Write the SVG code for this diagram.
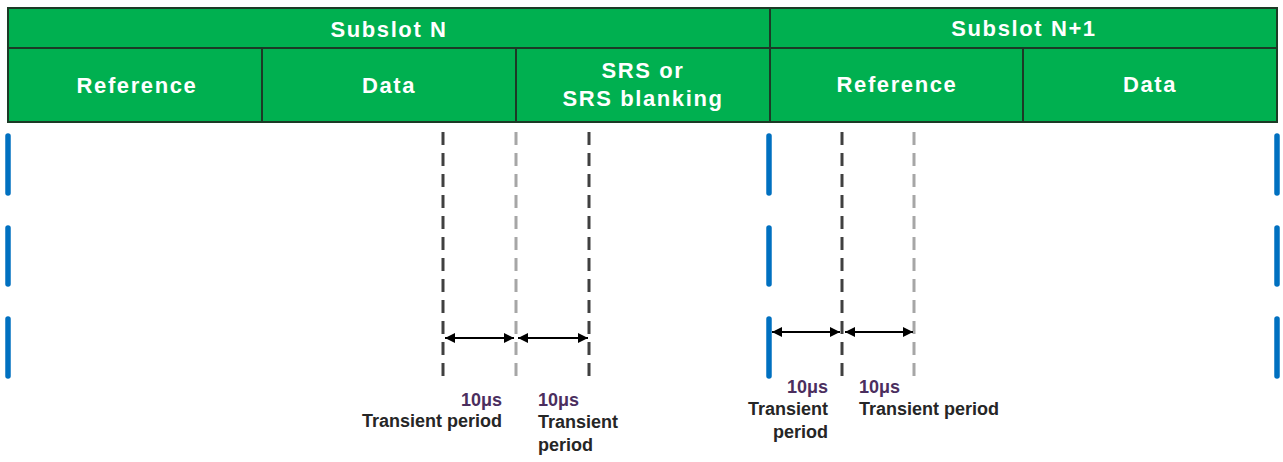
<svg xmlns="http://www.w3.org/2000/svg" width="1283" height="462" viewBox="0 0 1283 462">
<style>
.cell{fill:#00B050;stroke:#1C3A26;stroke-width:2}
.ht{font-family:"Liberation Sans",Arial,sans-serif;font-weight:bold;font-size:22px;letter-spacing:1.6px;fill:#FFFFFF;text-anchor:middle}
.bar{stroke:#0070C0;stroke-width:5.5;stroke-linecap:round}
.dd{stroke:#404040;stroke-width:3;stroke-dasharray:13 8;fill:none}
.dl{stroke:#A6A6A6;stroke-width:3;stroke-dasharray:13 8;fill:none}
.arr{stroke:#000;stroke-width:2;marker-start:url(#ah);marker-end:url(#ah)}
.lb{font-family:"Liberation Sans",Arial,sans-serif;font-weight:bold;font-size:18px;fill:#262626}
.us{fill:#4B2E5E}
</style>
<defs>
<marker id="ah" viewBox="0 0 10 10" refX="10" refY="5" markerWidth="12" markerHeight="10" markerUnits="userSpaceOnUse" orient="auto-start-reverse">
<path d="M0,0 L10,5 L0,10 z" fill="#000"/>
</marker>
</defs>
<rect width="1283" height="462" fill="#FFFFFF"/>

<g id="subslotN"><rect class="cell" x="8" y="8" width="762" height="40"/><text class="ht" x="389" y="37">Subslot N</text></g>
<g id="subslotN1"><rect class="cell" x="770" y="8" width="507" height="40"/><text class="ht" x="1024" y="36">Subslot N+1</text></g>
<g id="refN"><rect class="cell" x="8" y="48" width="254" height="74"/><text class="ht" x="137" y="93">Reference</text></g>
<g id="dataN"><rect class="cell" x="262" y="48" width="254" height="74"/><text class="ht" x="389" y="93">Data</text></g>
<g id="srsN"><rect class="cell" x="516" y="48" width="254" height="74"/><text class="ht" x="643" y="78">SRS or</text><text class="ht" x="643" y="106">SRS blanking</text></g>
<g id="refN1"><rect class="cell" x="770" y="48" width="253" height="74"/><text class="ht" x="897" y="92">Reference</text></g>
<g id="dataN1"><rect class="cell" x="1023" y="48" width="254" height="74"/><text class="ht" x="1150" y="92">Data</text></g>

<g id="bars">
<line class="bar" x1="8" y1="136" x2="8" y2="193"/>
<line class="bar" x1="8" y1="228" x2="8" y2="284"/>
<line class="bar" x1="8" y1="319" x2="8" y2="376"/>
<line class="bar" x1="769" y1="136" x2="769" y2="193"/>
<line class="bar" x1="769" y1="228" x2="769" y2="284"/>
<line class="bar" x1="769" y1="319" x2="769" y2="376"/>
<line class="bar" x1="1277" y1="136" x2="1277" y2="193"/>
<line class="bar" x1="1277" y1="228" x2="1277" y2="284"/>
<line class="bar" x1="1277" y1="319" x2="1277" y2="376"/>
</g>

<g id="guides">
<line class="dd" x1="443" y1="132" x2="443" y2="376"/>
<line class="dl" x1="516" y1="132" x2="516" y2="376"/>
<line class="dd" x1="589" y1="132" x2="589" y2="376"/>
<line class="dd" x1="842" y1="132" x2="842" y2="376"/>
<line class="dl" x1="914" y1="132" x2="914" y2="376"/>
</g>

<g id="connectors">
<line class="arr" x1="445" y1="338" x2="514" y2="338"/>
<line class="arr" x1="518" y1="338" x2="588" y2="338"/>
<line class="arr" x1="772" y1="332" x2="840" y2="332"/>
<line class="arr" x1="845" y1="332" x2="913" y2="332"/>
</g>

<g id="label1" class="lb" text-anchor="end">
<text class="us" x="502" y="406">10μs</text>
<text x="502" y="427">Transient period</text>
</g>
<g id="label2" class="lb">
<text class="us" x="538" y="406">10μs</text>
<text x="538" y="428">Transient</text>
<text x="538" y="451">period</text>
</g>
<g id="label3" class="lb" text-anchor="end">
<text class="us" x="828" y="393">10μs</text>
<text x="828" y="415">Transient</text>
<text x="828" y="438">period</text>
</g>
<g id="label4" class="lb">
<text class="us" x="859" y="393">10μs</text>
<text x="859" y="415">Transient period</text>
</g>
</svg>
